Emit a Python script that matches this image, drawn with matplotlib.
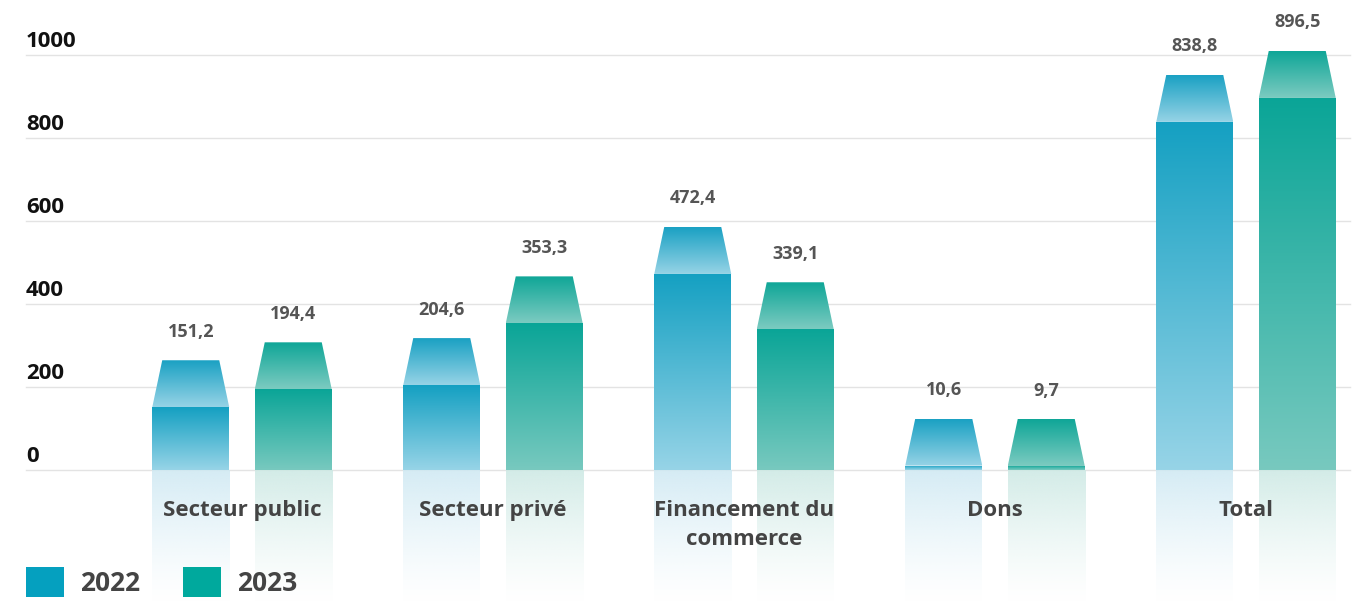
import numpy as np
import matplotlib
matplotlib.use("Agg")
import matplotlib.pyplot as plt
from matplotlib.colors import LinearSegmentedColormap, to_rgb
from matplotlib.patches import Polygon, Patch

categories = ["Secteur public", "Secteur privé", "Financement du\ncommerce", "Dons", "Total"]
years = ["2022", "2023"]
v2022 = [151.2, 204.6, 472.4, 10.6, 838.8]
v2023 = [194.4, 353.3, 339.1, 9.7, 896.5]
yticks = [0, 200, 400, 600, 800, 1000]

def fmt(v):
    return f"{v:.1f}".replace(".", ",")

W, H = 1363, 603
fig = plt.figure(figsize=(W / 100, H / 100), dpi=100)
ax = fig.add_axes([0, 0, 1, 1])
ax.set_axis_off()

# pixel geometry mapping
px_per_unit = 0.415
y0_pix = 470
x_c0, x_step = 242, 251
ax.set_xlim(-x_c0 / x_step, (W - x_c0) / x_step)
ax.set_ylim(-(H - y0_pix) / px_per_unit, y0_pix / px_per_unit)

FONT = "Open Sans"
bar_w = 77 / x_step
off = 51.25 / x_step
cap_h = 47 / px_per_unit
inset = 10 / x_step
ymin = ax.get_ylim()[0]

styles = {
    "2022": dict(top="#14a0c2", bot="#97d4e7", ctop="#1aa1c3", cbot="#96d3e6",
                 refl="#cfe9f3", leg="#05a0bf"),
    "2023": dict(top="#0aa597", bot="#78c9bf", ctop="#0fa697", cbot="#7ccbc1",
                 refl="#cde9e4", leg="#00a99d"),
}

grad = np.linspace(0, 1, 256).reshape(-1, 1)

def grad_fill(poly_xy, extent, c_top, c_bot, zorder):
    cmap = LinearSegmentedColormap.from_list("g", [c_top, c_bot])
    poly = Polygon(poly_xy, closed=True, facecolor="none", edgecolor="none")
    ax.add_patch(poly)
    im = ax.imshow(grad, extent=extent, aspect="auto", cmap=cmap,
                   origin="upper", zorder=zorder, interpolation="bilinear")
    im.set_clip_path(poly)

# gridlines
for t in yticks:
    ax.axhline(t, xmin=26 / W, xmax=1350 / W, color="#e3e3e3", lw=1, zorder=1)
    ax.annotate(str(t), xy=(26 / W, t), xycoords=("figure fraction", "data"),
                xytext=(0, 9.8), textcoords="offset points", ha="left", va="center",
                fontsize=16, fontweight="bold", color="#111111", family=FONT)

xs = np.arange(len(categories))
for yi, (yr, vals) in enumerate(zip(years, [v2022, v2023])):
    st = styles[yr]
    for i, v in enumerate(vals):
        xc = xs[i] + (-off if yi == 0 else off)
        x0, x1 = xc - bar_w / 2, xc + bar_w / 2
        # reflection
        rgb = np.array(to_rgb(st["refl"]))
        img = np.zeros((256, 1, 4))
        img[:, 0, :3] = rgb
        img[:, 0, 3] = np.linspace(0.9, 0.0, 256) ** 1.3
        ax.imshow(img, extent=[x0, x1, ymin, 0], aspect="auto", origin="upper",
                  zorder=2, interpolation="bilinear")
        # bar body
        grad_fill([(x0, 0), (x1, 0), (x1, v), (x0, v)], [x0, x1, 0, v],
                  st["top"], st["bot"], 3)
        # cap (trapezoid)
        grad_fill([(x0, v), (x1, v), (x1 - inset, v + cap_h), (x0 + inset, v + cap_h)],
                  [x0, x1, v, v + cap_h], st["ctop"], st["cbot"], 3)
        ax.annotate(fmt(v), xy=(xc, v + cap_h), xytext=(0, 20.5),
                    textcoords="offset points", ha="center", va="center",
                    fontsize=13, fontweight="bold", color="#555555", family=FONT, zorder=5)

for i, c in enumerate(categories):
    ax.annotate(c, xy=(xs[i], 0), xytext=(0, -21.5), textcoords="offset points",
                ha="center", va="top", fontsize=16, fontweight="bold",
                color="#444444", family=FONT, linespacing=1.5, zorder=5)

handles = [Patch(facecolor=styles[y]["leg"], edgecolor="none") for y in years]
leg = fig.legend(handles, years, loc="center left", bbox_to_anchor=(26 / W, 1 - 582 / H),
                 ncol=2, frameon=False, handlelength=1.44, handleheight=1.37,
                 handletextpad=0.62, columnspacing=1.6, borderpad=0, borderaxespad=0,
                 prop={"family": FONT, "weight": "bold", "size": 19})
for t in leg.get_texts():
    t.set_color("#444444")

fig.savefig("out.png", dpi=100)
